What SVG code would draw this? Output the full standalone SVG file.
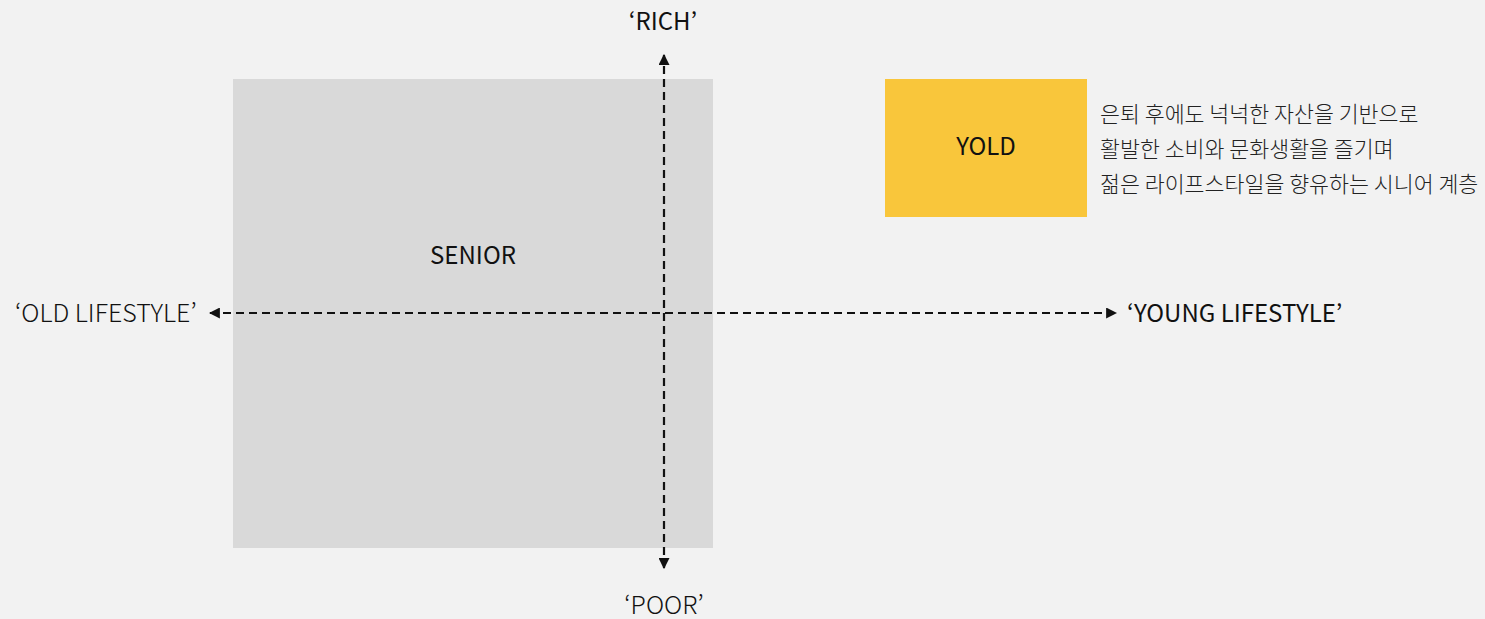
<svg xmlns="http://www.w3.org/2000/svg" width="1485" height="619" viewBox="0 0 1485 619">
<style>
.lat{font-family:"Noto Sans CJK KR","Noto Sans",sans-serif;font-size:24px;fill:#111}
.med{font-weight:400}
.lt{font-weight:300;font-size:25px}
.ko{font-family:"Noto Sans CJK KR",sans-serif;font-size:21.7px;font-weight:300;fill:#222}
.ax{stroke:#111;stroke-width:2.2;stroke-dasharray:8 5;fill:none}
</style>
<defs>
<marker id="ah" viewBox="0 0 10 10" refX="9" refY="5" markerWidth="5" markerHeight="5" orient="auto-start-reverse" markerUnits="strokeWidth">
<path d="M0,0 L10,5 L0,10 z" fill="#111"/>
</marker>
</defs>
<rect width="1485" height="619" fill="#f2f2f2"/>
<g id="senior">
<rect x="233" y="79" width="480" height="469" fill="#d9d9d9"/>
<text class="lat med" x="473" y="264" text-anchor="middle">SENIOR</text>
</g>
<g id="yold">
<rect x="885" y="79" width="202" height="138" fill="#f9c63b"/>
<text class="lat med" x="986" y="155" text-anchor="middle">YOLD</text>
</g>
<g id="yold-desc">
<text class="ko" x="1100" y="122">은퇴 후에도 넉넉한 자산을 기반으로</text>
<text class="ko" x="1100" y="157">활발한 소비와 문화생활을 즐기며</text>
<text class="ko" x="1100" y="192">젊은 라이프스타일을 향유하는 시니어 계층</text>
</g>
<g id="connectors">
<line class="ax" x1="664" y1="568" x2="664" y2="55" marker-start="url(#ah)" marker-end="url(#ah)"/>
<line class="ax" x1="210" y1="313" x2="1116" y2="313" marker-start="url(#ah)" marker-end="url(#ah)"/>
</g>
<g id="labels">
<text class="lat med" x="663" y="30" text-anchor="middle">‘RICH’</text>
<text class="lat lt" x="664" y="614" text-anchor="middle">‘POOR’</text>
<text class="lat lt" x="15" y="322">‘OLD LIFESTYLE’</text>
<text class="lat med" x="1127" y="322">‘YOUNG LIFESTYLE’</text>
</g>
</svg>
